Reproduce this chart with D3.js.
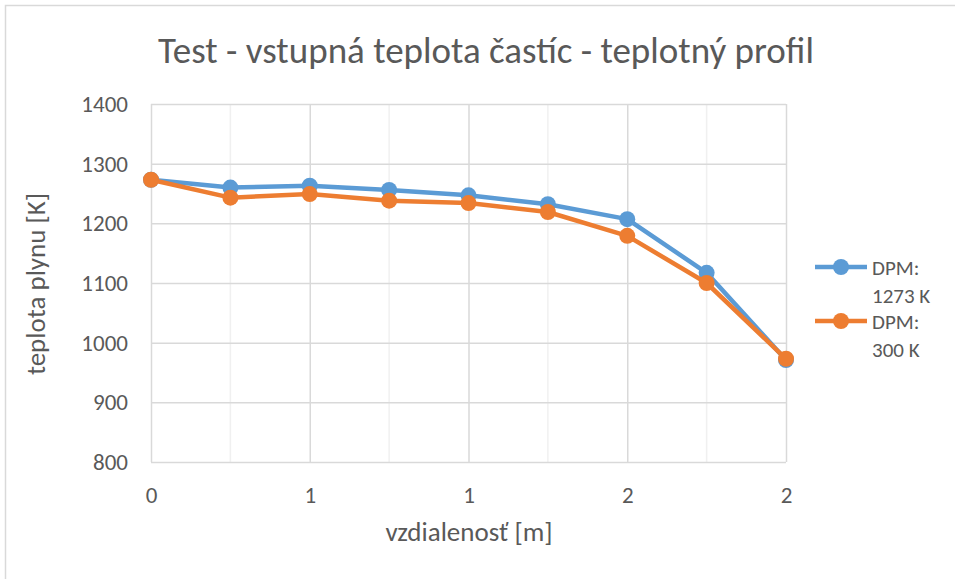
<!DOCTYPE html>
<html>
<head>
<meta charset="utf-8">
<script src="https://cdn.jsdelivr.net/npm/d3@7"></script>
<style>
  body { margin: 0; background: #fff; }
  text { font-family: Carlito, "Liberation Sans Narrow", "Open Sans", sans-serif; fill: #595959; }
</style>
</head>
<body>
<script>
// data
const distance = [0, 0.25, 0.5, 0.75, 1, 1.25, 1.5, 1.75, 2];
const dpm1273 = [1273, 1260, 1263, 1256, 1247, 1232, 1207, 1117, 971];
const dpm300 = [1273, 1243, 1249, 1238, 1234, 1219, 1179, 1100, 973];
const seriesNames = [["DPM:", "1273 K"], ["DPM:", "300 K"]];
const colors = ["#5B9BD5", "#ED7D31"];
const yTicks = [800, 900, 1000, 1100, 1200, 1300, 1400];
const xMajor = [0, 0.5, 1, 1.5, 2];
const xMinor = [0.25, 0.75, 1.25, 1.75];

const W = 955, H = 579;
const margin = { top: 104, right: 169, bottom: 117, left: 151 };
const width = W - margin.left - margin.right,
    height = H - margin.top - margin.bottom;

const svg = d3.select('body').append('svg')
    .attr('width', W)
    .attr('height', H);

// chart border (only top/left are in view)
svg.append('rect')
    .attr('x', 5.5).attr('y', 5.5)
    .attr('width', W + 20).attr('height', H + 20)
    .attr('fill', 'none')
    .attr('stroke', '#d9d9d9')
    .attr('stroke-width', 1.5);

const g = svg.append('g')
    .attr('transform', `translate(${margin.left}, ${margin.top})`);

const x = d3.scaleLinear().domain([0, 2]).range([0, width]);
const y = d3.scaleLinear().domain([800, 1400]).range([height, 0]);

// minor vertical gridlines
g.append('g')
    .selectAll('line')
    .data(xMinor)
    .join('line')
    .attr('x1', d => x(d)).attr('x2', d => x(d))
    .attr('y1', 0).attr('y2', height)
    .attr('stroke', '#f0f0f0')
    .attr('stroke-width', 1.5);

// major gridlines
g.append('g')
    .call(d3.axisLeft(y).tickValues(yTicks).tickSize(-width).tickFormat(''))
    .call(a => a.select('.domain').remove())
    .selectAll('line').attr('stroke', '#d9d9d9').attr('stroke-width', 1.5);

g.append('g')
    .call(d3.axisBottom(x).tickValues(xMajor).tickSize(height).tickFormat(''))
    .call(a => a.select('.domain').remove())
    .selectAll('line').attr('stroke', '#d9d9d9').attr('stroke-width', 1.5);

// tick labels
g.append('g')
    .call(d3.axisLeft(y).tickValues(yTicks).tickSize(0).tickPadding(23).tickFormat(d3.format('d')))
    .call(a => a.select('.domain').remove())
    .selectAll('text')
    .style('font-size', '23px');

g.append('g')
    .attr('transform', `translate(0, ${height})`)
    .call(d3.axisBottom(x).tickValues(xMajor).tickSize(0).tickPadding(0).tickFormat(d => d3.format('.0f')(d + 1e-9)))
    .call(a => a.select('.domain').remove())
    .selectAll('text')
    .attr('dy', null)
    .attr('y', 41)
    .style('font-size', '23px');

// lines + markers
const series = [dpm1273, dpm300];
const line = d3.line().x((d, i) => x(distance[i])).y(d => y(d));

series.forEach((s, k) => {
    g.append('path')
        .datum(s)
        .attr('d', line)
        .attr('fill', 'none')
        .attr('stroke', colors[k])
        .attr('stroke-width', 4.5)
        .attr('stroke-linejoin', 'round');
    g.append('g')
        .selectAll('circle')
        .data(s)
        .join('circle')
        .attr('cx', (d, i) => x(distance[i]))
        .attr('cy', d => y(d))
        .attr('r', 8)
        .attr('fill', colors[k]);
});

// title
svg.append('text')
    .attr('x', 486).attr('y', 63)
    .attr('text-anchor', 'middle')
    .style('font-size', '37px')
    .text('Test - vstupná teplota častíc - teplotný profil');

// axis titles
svg.append('text')
    .attr('x', 469).attr('y', 541)
    .attr('text-anchor', 'middle')
    .style('font-size', '27px')
    .text('vzdialenosť [m]');

svg.append('text')
    .attr('transform', 'translate(45, 284) rotate(-90)')
    .attr('text-anchor', 'middle')
    .style('font-size', '27px')
    .text('teplota plynu [K]');

// legend
const legend = svg.append('g');
const legendY = [267, 321];
seriesNames.forEach((nm, k) => {
    const lg = legend.append('g').attr('transform', `translate(815, ${legendY[k]})`);
    lg.append('line')
        .attr('x1', 0).attr('x2', 52)
        .attr('stroke', colors[k]).attr('stroke-width', 4.5);
    lg.append('circle').attr('cx', 26).attr('r', 8).attr('fill', colors[k]);
    lg.append('text')
        .attr('x', 57).attr('y', 8)
        .style('font-size', '21px')
        .text(nm[0]);
    lg.append('text')
        .attr('x', 57).attr('y', 36)
        .style('font-size', '21px')
        .text(nm[1]);
});
</script>
</body>
</html>
